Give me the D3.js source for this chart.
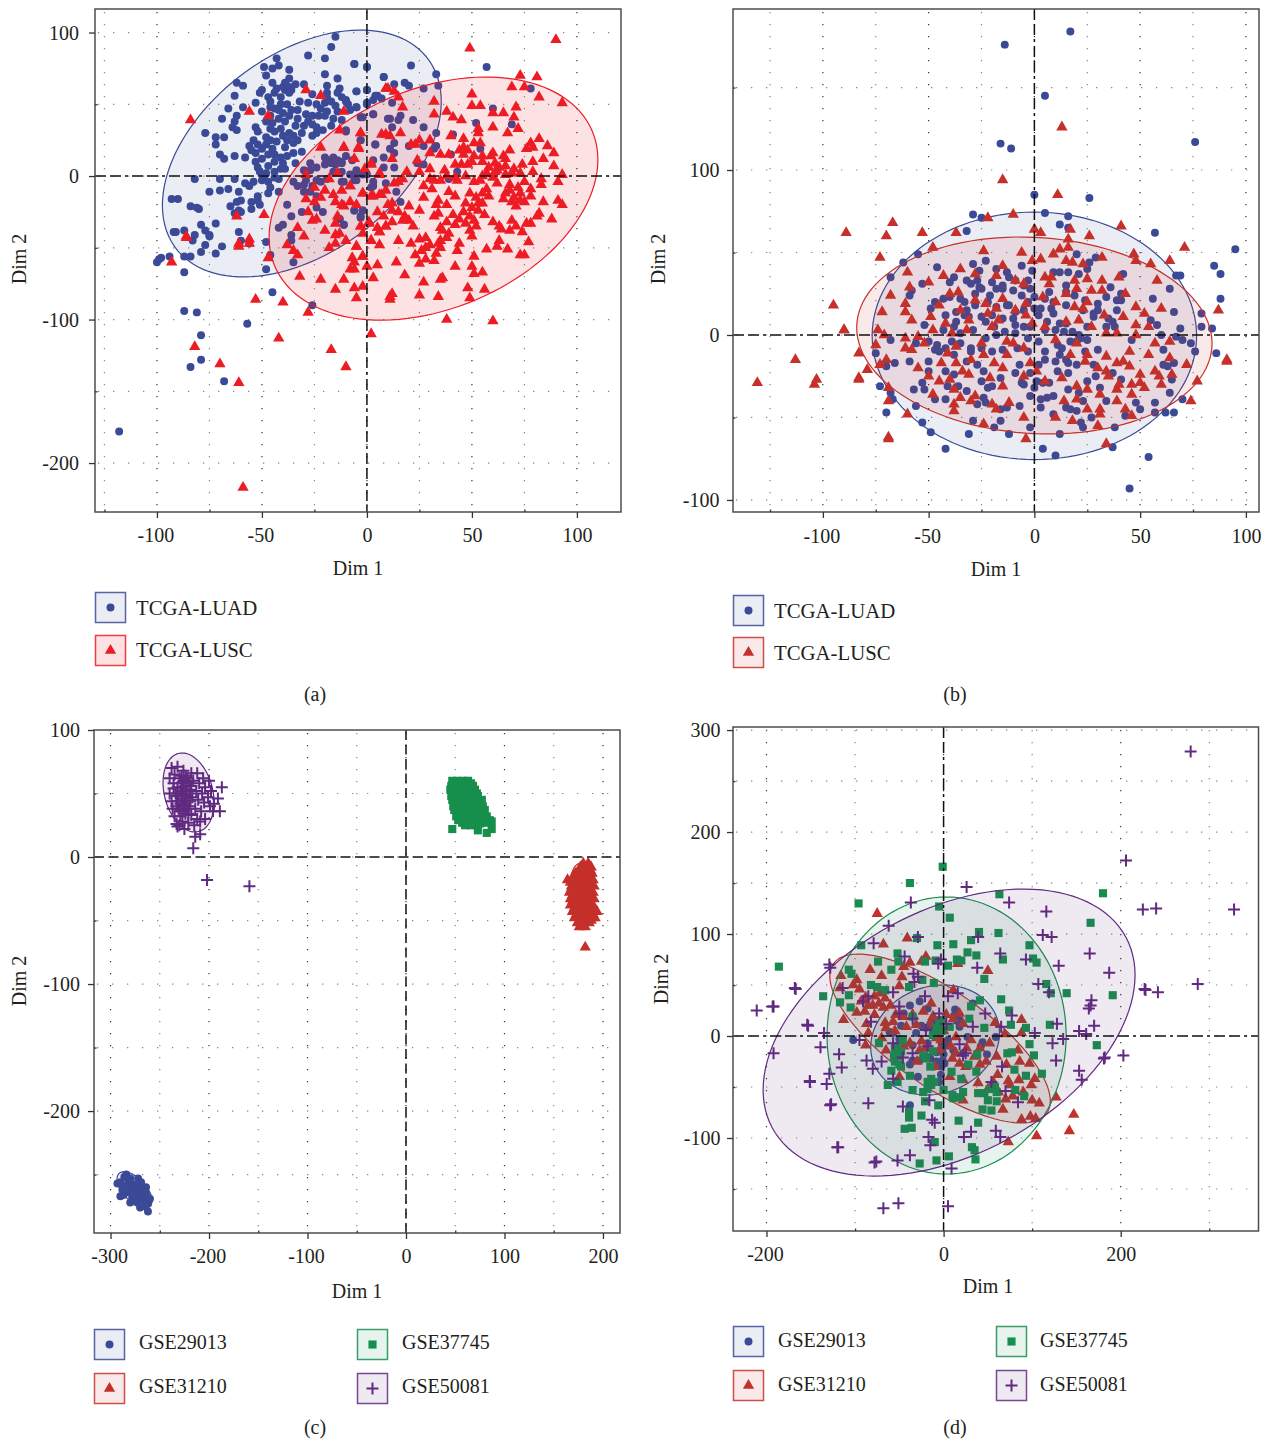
<!DOCTYPE html>
<html>
<head>
<meta charset="utf-8">
<script src="https://cdn.jsdelivr.net/npm/d3@7"></script>
<style>
    html, body { margin: 0; padding: 0; background: #fff; }
    svg { display: block; }
    text { font-family: "Liberation Serif", serif; fill: #231f20; }
</style>
</head>
<body>
<div id="chart"></div>
<script>
// values, [dim1, dim2]
var luadA = [[-15,97],[-17,90],[-28,84],[-20,82],[-43,82],[-6,78],[0,76],[-49,76],[-45,75],[-42,77],[-37,74],[-20,71],[-48,70],[-14,68],[8,69],[-37,68],[-45,65],[-39,65],[-62,65],[-59,63],[-30,64],[-43,61],[-19,63],[-37,62],[-39,60],[-36,60],[-50,60],[-5,59],[0,60],[-13,61],[-19,58],[-26,57],[-14,58],[-63,56],[-37,58],[-51,58],[-41,55],[-47,55],[4,56],[-19,55],[-10,53],[-46,52],[-32,52],[-28,51],[-53,51],[-20,51],[-15,49],[0,51],[3,53],[-9,50],[-66,47],[-59,48],[-46,48],[-42,46],[-33,46],[-22,47],[-5,48],[-50,45],[-46,42],[-29,43],[-26,42],[-23,42],[-19,45],[3,43],[-3,41],[-62,42],[-69,40],[-37,42],[-16,40],[-12,39],[10,40],[-63,38],[-45,37],[-39,38],[-64,34],[-62,32],[-53,34],[-34,35],[-30,35],[-24,34],[-21,32],[-10,31],[-77,30],[-52,31],[-41,33],[-72,27],[-68,27],[-48,27],[-44,31],[-37,30],[-26,28],[-72,22],[-54,25],[-33,25],[-3,25],[4,22],[-56,21],[-46,25],[-35,23],[-50,19],[-45,19],[-39,20],[-41,13],[-70,15],[-68,12],[-63,14],[-58,13],[-53,16],[-47,15],[-35,16],[-31,17],[-53,10],[-40,9],[-34,9],[-27,9],[-20,13],[-18,11],[-16,13],[-14,11],[-12,10],[-10,14],[-7,11],[-20,8],[-17,9],[-15,8],[-12,9],[-51,3],[-44,3],[-48,2],[-39,5],[-5,3],[-2,1],[-12,3],[-30,4],[-27,4],[-82,-2],[-70,-2],[-63,-2],[-50,-3],[-47,-4],[-42,-2],[-54,-4],[-58,-5],[-56,-7],[-35,-4],[-29,-3],[-24,-3],[-22,-4],[-12,-4],[-6,-3],[3,-7],[-75,-11],[-70,-10],[-66,-9],[-61,-11],[-47,-12],[-42,-11],[-33,-7],[-30,-11],[-27,-11],[-24,-14],[-90,-16],[-52,-14],[-60,-17],[-65,-21],[-51,-20],[-38,-20],[-24,-22],[-21,-25],[-84,-21],[-80,-23],[-55,-23],[-61,-24],[-63,-26],[-31,-25],[-36,-28],[-6,-24],[-2,-24],[-3,-28],[-13,-30],[-11,-34],[-72,-33],[-79,-34],[-77,-38],[-75,-42],[-87,-38],[-92,-39],[-82,-41],[-42,-36],[-40,-34],[-61,-39],[-36,-41],[-60,-45],[-56,-47],[-48,-46],[-36,-45],[-77,-48],[-69,-49],[-79,-53],[-84,-56],[-87,-56],[-94,-56],[-98,-57],[-100,-60],[-99,-58],[-87,-67],[-87,-94],[-81,-95],[-79,-111],[-79,-128],[-84,-133],[-68,-143],[-118,-178],[-57,-103],[-45,-81],[-26,-90],[-46,-55],[-48,-65],[-35,-60],[-83,-45],[-93,-16],[-81,-22],[-91,-39],[-72,-54],[-75,-41],[-6,78],[0,76],[21,77],[57,76],[33,71],[8,69],[13,64],[18,65],[20,63],[34,63],[27,61],[78,61],[-5,59],[0,60],[5,56],[7,54],[-10,52],[0,50],[12,51],[-5,48],[60,47],[3,43],[16,42],[11,40],[15,39],[22,39],[-2,41],[52,37],[69,36],[27,34],[12,34],[-10,32],[33,30],[41,29],[-3,25],[13,23],[4,22],[20,21],[27,21],[33,21],[32,19],[54,19],[11,19],[13,16],[40,15],[8,13],[3,11],[24,9],[27,8],[13,6],[8,6],[43,3],[-5,4],[0,1],[-8,1],[39,-2],[3,-4],[9,-5],[-5,-3],[-11,-4],[2,-8],[14,-11],[16,-18],[-6,-24],[-2,-24],[-3,-29],[-11,-34],[-13,-30],[-44,58],[-40,62],[-34,64],[-41,50],[-38,50],[-44,47],[-40,44],[-36,46],[-33,40],[-28,38],[-42,40],[-48,38],[-46,33],[-40,28],[-35,28],[-31,30],[-43,24],[-38,25],[-52,22],[-48,22],[-44,15],[-38,14],[-55,18],[-50,12],[-44,10],[-47,7],[-41,5],[-52,6],[-49,-1],[-44,-1],[-46,-8],[-24,50],[-17,52],[-12,55],[-8,46],[-20,42],[-14,45],[-26,36],[-17,35],[-24,30],[-16,3],[-24,6],[-30,-6],[-26,-7],[-19,-2],[-55,-18],[-60,-25],[-62,-18],[-52,-17]];

var luscA = [[-84,39],[-29,60],[-22,56],[-56,45],[-47,42],[-11,45],[9,61],[-3,30],[7,29],[-22,20],[-11,20],[-4,20],[-13,32],[-6,12],[2,9],[-1,5],[6,2],[-18,-2],[-14,2],[-29,1],[-8,-7],[-2,-12],[2,-14],[6,-13],[-16,-13],[-29,-16],[-25,-18],[-15,-18],[-12,-20],[-11,-21],[-62,-28],[-49,-27],[-26,-31],[-24,-30],[-15,-33],[-3,-35],[1,-32],[8,-28],[-33,-36],[5,-36],[9,-35],[6,-39],[-86,-43],[-56,-44],[-61,-49],[-13,-40],[-15,-41],[-15,-47],[-18,-50],[-38,-48],[2,-45],[-5,-49],[-33,-55],[-2,-56],[-47,-57],[-7,-57],[49,89],[90,95],[73,70],[81,69],[69,62],[75,62],[10,61],[13,59],[15,55],[50,57],[82,55],[32,52],[93,51],[50,49],[54,49],[17,48],[71,48],[38,45],[65,44],[60,44],[32,43],[41,41],[45,39],[70,41],[60,34],[72,33],[53,33],[53,30],[67,30],[9,29],[-3,30],[16,30],[11,28],[40,28],[46,26],[82,26],[25,25],[30,25],[21,22],[23,22],[78,23],[54,23],[51,23],[-11,20],[-4,19],[79,20],[46,20],[86,21],[76,19],[89,16],[68,18],[44,18],[48,18],[30,16],[35,15],[39,15],[46,15],[51,14],[59,14],[65,14],[84,12],[79,10],[66,12],[24,11],[12,12],[42,8],[48,8],[45,8],[50,10],[55,10],[61,9],[74,8],[89,7],[2,8],[30,5],[19,3],[37,4],[25,3],[62,4],[61,3],[69,2],[73,2],[79,3],[93,1],[47,0],[32,-3],[35,-3],[43,-3],[51,-4],[54,-3],[66,1],[6,1],[17,-2],[15,-4],[13,-5],[83,-2],[91,-4],[75,-4],[62,-5],[68,-6],[-8,-7],[27,-7],[31,-9],[57,-9],[83,-6],[49,-12],[39,-11],[-2,-12],[9,-10],[7,-13],[3,-14],[27,-15],[42,-14],[78,-9],[73,-12],[66,-12],[78,-14],[65,-16],[34,-17],[47,-19],[53,-19],[55,-19],[69,-18],[84,-18],[73,-17],[91,-17],[93,-20],[12,-19],[20,-21],[33,-20],[38,-20],[71,-21],[25,-24],[12,-24],[53,-24],[1,-33],[82,-26],[81,-28],[56,-27],[32,-28],[34,-26],[41,-27],[49,-28],[51,-31],[20,-31],[17,-31],[88,-30],[69,-31],[60,-32],[78,-33],[76,-33],[12,-32],[9,-35],[-3,-35],[42,-34],[63,-35],[71,-35],[35,-36],[6,-39],[64,-37],[68,-38],[74,-39],[49,-38],[50,-42],[39,-40],[35,-45],[28,-43],[25,-44],[38,-43],[63,-45],[77,-46],[15,-45],[21,-47],[34,-47],[44,-47],[2,-45],[-5,-49],[35,-50],[43,-52],[26,-52],[57,-51],[62,-49],[67,-51],[-2,-56],[23,-55],[33,-54],[28,-58],[32,-59],[51,-56],[73,-55],[75,-55],[25,-61],[-6,-60],[5,-62],[-6,-65],[0,-63],[42,-63],[50,-63],[51,-68],[55,-67],[18,-69],[3,-71],[-11,-72],[27,-74],[35,-72],[36,-71],[48,-78],[56,-79],[-6,-78],[12,-82],[25,-83],[34,-84],[-5,-85],[11,-86],[49,-85],[38,-100],[60,-101],[2,-110],[-93,-60],[-86,-42],[-61,-47],[-56,-47],[-53,-86],[-40,-88],[-28,-95],[-42,-113],[-17,-121],[-10,-133],[-82,-119],[-70,-131],[-61,-144],[-59,-217],[-32,-70],[-22,-72],[-15,-79],[-8,-65],[-2,-77],[11,-84],[55,14],[60,16],[58,6],[63,6],[66,7],[70,5],[57,2],[55,0],[60,-1],[38,0],[42,-1],[30,-2],[68,-10],[72,-8],[70,-15],[75,-18],[58,-14],[55,-12],[52,-15],[50,-22],[46,-25],[44,-30],[47,-33],[52,-35],[38,-32],[36,-38],[30,-48],[28,-50],[-5,-20],[-12,-10],[-20,-10],[-25,-8],[-8,-18],[-14,-28],[-20,-38],[-28,-25],[-22,-15],[-30,-42],[-35,-52],[10,-20],[15,-25],[5,-25],[18,-28],[22,-35],[-10,-45],[-2,-40],[6,-48],[14,-60]];

var luadB = [[-29,73],[-25,71],[5,74],[16,72],[12,67],[16,65],[-32,63],[57,62],[95,52],[-55,49],[-62,44],[85,42],[88,37],[-68,35],[-46,41],[-29,43],[-23,45],[-18,40],[-26,39],[-6,42],[-1,39],[25,40],[29,47],[20,49],[26,44],[9,38],[12,38],[16,38],[21,37],[-13,38],[-12,35],[-9,33],[42,37],[67,36],[69,36],[-38,35],[-32,33],[-27,33],[-3,33],[-20,32],[-53,31],[-40,32],[-30,31],[15,30],[36,29],[64,28],[-18,28],[-15,28],[-10,27],[-2,28],[-26,29],[7,26],[15,26],[41,25],[-58,27],[-59,24],[-21,24],[-6,24],[34,23],[19,24],[0,23],[-35,22],[-40,23],[-43,22],[56,22],[88,22],[39,21],[41,21],[24,21],[-47,20],[-33,20],[9,20],[-28,18],[-18,17],[-13,18],[15,18],[30,19],[-49,16],[-37,14],[-32,15],[-9,14],[0,16],[3,16],[8,16],[23,15],[28,13],[39,15],[66,14],[79,13],[-42,12],[-25,11],[-15,10],[2,12],[9,13],[28,11],[-37,8],[-31,11],[-23,8],[-19,5],[-9,6],[-5,5],[6,8],[12,7],[15,7],[37,8],[55,9],[58,6],[69,4],[79,5],[84,4],[-52,6],[-29,3],[-43,3],[21,0],[34,5],[-14,2],[-9,1],[-18,0],[-35,1],[46,-3],[60,0],[67,-1],[-23,-2],[-3,-2],[2,-4],[11,-6],[17,-4],[20,-4],[70,-3],[74,-5],[-68,-3],[-56,-5],[-50,-4],[-46,-6],[-39,-4],[-30,-8],[-47,-9],[-75,-11],[-38,-12],[-20,-10],[-15,-9],[5,-10],[13,-8],[24,-10],[30,-9],[61,-9],[76,-10],[86,-11],[-66,-17],[-59,-16],[-50,-16],[-70,-19],[-32,-16],[-27,-18],[-7,-18],[10,-16],[16,-17],[28,-18],[61,-18],[63,-19],[66,-17],[-50,-22],[-42,-22],[-24,-22],[-9,-23],[-2,-23],[11,-22],[16,-23],[37,-23],[65,-27],[29,-25],[-38,-24],[-16,-26],[1,-28],[-6,-29],[4,-29],[7,-29],[25,-28],[41,-27],[-53,-29],[-73,-31],[-57,-33],[-52,-33],[-41,-31],[-36,-31],[-32,-34],[-20,-31],[31,-32],[16,-33],[21,-35],[-2,-37],[-68,-35],[64,-35],[-67,-39],[-47,-39],[-42,-39],[-24,-38],[3,-39],[6,-38],[9,-37],[23,-40],[34,-40],[-27,-42],[-23,-41],[70,-39],[48,-41],[57,-41],[-56,-43],[3,-44],[-7,-43],[-16,-45],[-13,-44],[15,-44],[17,-45],[20,-46],[50,-45],[-70,-47],[62,-47],[66,-47],[57,-47],[43,-49],[9,-48],[27,-50],[-29,-52],[-16,-52],[-53,-53],[22,-53],[23,-56],[-19,-56],[-2,-56],[38,-56],[-49,-59],[-31,-60],[-12,-60],[12,-60],[-42,-69],[4,-69],[10,-73],[37,-68],[54,-74],[17,184],[-14,176],[5,145],[-16,116],[-11,113],[76,117],[0,85],[26,83],[45,-93],[-30,-10],[-35,-5],[-25,-8],[-20,12],[-10,10],[-5,15],[5,3],[10,3],[14,2],[18,2],[22,-2],[25,-3],[12,-12],[15,-15],[20,-18],[5,-15],[-5,-30],[0,-32],[-25,-28],[-22,-32],[-25,28],[-22,20],[-28,25],[-33,12],[-38,5],[-42,-8],[-45,-10],[-5,30],[-3,20],[5,22],[30,15],[35,10],[38,5],[25,5],[-15,30],[-8,-8],[-3,-10],[-2,5],[-12,18],[2,-18]];

var luscB = [[-89,62],[-67,68],[-70,60],[-53,62],[-22,71],[-10,73],[-37,62],[0,64],[3,62],[17,64],[26,60],[41,66],[-48,53],[-24,51],[-73,47],[-6,50],[16,58],[12,52],[16,53],[9,49],[3,46],[15,45],[-1,45],[18,44],[23,43],[32,47],[47,49],[48,45],[55,43],[64,45],[71,53],[-43,36],[-28,37],[-18,36],[-50,32],[-9,33],[8,35],[-5,31],[32,33],[25,34],[19,33],[7,31],[-59,29],[-68,24],[-36,26],[20,28],[27,27],[32,27],[43,25],[-61,19],[-15,22],[-28,21],[4,23],[-4,19],[-23,19],[-18,16],[48,17],[60,16],[87,15],[-72,14],[-61,14],[-9,15],[19,17],[23,16],[52,13],[-49,11],[-58,9],[-22,13],[-4,12],[33,12],[42,11],[21,9],[-1,7],[-42,7],[-31,9],[-17,9],[48,6],[54,5],[-90,3],[-74,3],[-48,3],[-71,0],[-61,-2],[-55,-1],[-39,1],[-32,3],[27,5],[34,1],[39,1],[48,0],[-75,-6],[-61,-8],[-58,-9],[-83,-11],[-37,-7],[-13,-4],[-13,-12],[-41,-11],[-24,-12],[-19,-17],[17,-12],[34,-13],[57,-5],[64,-4],[54,-12],[64,-14],[91,-16],[-73,-18],[-79,-21],[-70,-15],[-37,-17],[-2,-17],[24,-16],[39,-17],[45,-19],[72,-18],[-44,-17],[-83,-26],[-34,-22],[-31,-24],[1,-22],[13,-26],[34,-22],[42,-16],[57,-22],[50,-24],[59,-25],[65,-24],[77,-28],[-40,-27],[-21,-26],[-15,-31],[20,-31],[25,-33],[46,-30],[50,-29],[60,-30],[-69,-32],[-38,-33],[39,-33],[-48,-36],[-35,-38],[-28,-37],[46,-36],[31,-36],[74,-40],[-69,-40],[-38,-42],[-20,-42],[-12,-41],[14,-40],[20,-39],[39,-40],[31,-45],[-60,-48],[-38,-46],[43,-45],[31,-48],[46,-49],[-24,-54],[30,-55],[-69,-63],[-4,-63],[34,-66],[13,126],[-15,94],[11,85],[-131,-29],[-113,-15],[-104,-30],[-103,-27],[-95,18],[-90,3],[-69,-62],[91,-15],[-83,-27],[-20,5],[-10,-5],[-5,-8],[5,5],[10,-3],[-25,-5],[-30,-15],[-15,-20],[-5,-25],[5,-28],[20,-5],[25,-12],[30,-20],[35,-25],[15,25],[10,20],[25,20],[-35,15],[-45,18],[-52,-5],[-50,-25],[-45,-28],[-30,-40],[-18,-45],[-5,-50],[10,-50],[18,-52],[25,-45],[40,-30],[45,-10],[52,-32],[-55,-20],[-40,25],[-15,42],[5,35],[-35,40],[40,35],[58,33],[-60,38],[15,8]];

var gse29013C = [[-284,-250],[-290,-256],[-293,-257],[-288,-262],[-290,-267],[-280,-253],[-272,-253],[-277,-258],[-283,-264],[-275,-266],[-268,-261],[-280,-272],[-273,-272],[-267,-269],[-264,-265],[-270,-276],[-262,-273],[-276,-262],[-269,-256],[-285,-259],[-282,-254],[-263,-270],[-272,-269],[-260,-269],[-262,-279],[-278,-268],[-274,-258],[-266,-263],[-286,-252],[-279,-257],[-282,-260],[-271,-262],[-275,-270],[-268,-272],[-265,-275],[-270,-266],[-278,-262],[-287,-266],[-264,-260]];

var gse31210C = [[180,-5],[185,-5],[177,-8],[184,-8],[188,-8],[176,-10],[182,-10],[187,-10],[172,-13],[178,-13],[184,-13],[189,-13],[170,-15],[176,-15],[182,-15],[187,-15],[164,-18],[170,-18],[176,-18],[182,-18],[188,-18],[190,-18],[167,-20],[173,-20],[179,-20],[185,-20],[168,-23],[174,-23],[180,-23],[186,-23],[191,-23],[168,-25],[174,-25],[180,-25],[186,-25],[166,-28],[172,-28],[178,-28],[184,-28],[190,-28],[169,-30],[175,-30],[181,-30],[187,-30],[167,-33],[173,-33],[179,-33],[185,-33],[191,-33],[169,-35],[175,-35],[181,-35],[187,-35],[167,-38],[173,-38],[179,-38],[185,-38],[190,-38],[171,-40],[177,-40],[183,-40],[189,-40],[169,-43],[175,-43],[181,-43],[187,-43],[194,-43],[173,-45],[179,-45],[185,-45],[190,-45],[171,-48],[177,-48],[183,-48],[189,-48],[192,-48],[176,-50],[182,-50],[188,-50],[174,-52],[180,-52],[186,-52],[176,-55],[182,-55],[182,-71]];

var gse37745C = [[47,60],[52,60],[58,60],[63,60],[48,58],[55,58],[60,58],[66,58],[46,56],[51,56],[57,56],[63,56],[68,56],[45,53],[50,53],[56,53],[62,53],[67,53],[70,53],[48,50],[54,50],[60,50],[66,50],[72,50],[46,48],[52,48],[58,48],[64,48],[70,48],[73,48],[47,45],[53,45],[59,45],[65,45],[71,45],[77,45],[50,42],[56,42],[62,42],[68,42],[74,42],[48,40],[54,40],[60,40],[66,40],[72,40],[78,40],[49,37],[55,37],[61,37],[67,37],[73,37],[80,37],[53,34],[59,34],[65,34],[71,34],[77,34],[51,32],[57,32],[63,32],[69,32],[75,32],[82,32],[53,29],[59,29],[65,29],[71,29],[77,29],[85,29],[57,27],[63,27],[69,27],[75,27],[81,27],[60,25],[66,25],[72,25],[47,22],[73,21],[82,19],[87,22],[87,28]];

var gse50081C = [[-238,70],[-232,71],[-226,68],[-240,62],[-235,65],[-230,62],[-224,64],[-218,66],[-212,66],[-206,62],[-200,60],[-236,58],[-232,55],[-228,58],[-222,58],[-216,60],[-210,58],[-204,55],[-198,52],[-240,50],[-234,50],[-229,52],[-224,52],[-219,53],[-213,52],[-207,50],[-201,47],[-195,42],[-238,44],[-232,44],[-227,46],[-222,46],[-217,47],[-211,45],[-205,43],[-199,40],[-237,38],[-231,38],[-226,40],[-220,40],[-214,38],[-208,36],[-235,32],[-229,32],[-224,34],[-218,33],[-212,30],[-233,26],[-227,28],[-221,27],[-215,25],[-209,28],[-230,25],[-232,24],[-225,22],[-214,16],[-209,18],[-216,7],[-202,-18],[-159,-23],[-187,55],[-191,46],[-189,36],[-196,36],[-204,30],[-226,60],[-228,50],[-226,52],[-223,48],[-225,44],[-229,42],[-222,38],[-218,56],[-231,48],[-220,50],[-227,55],[-224,42],[-219,44],[-233,40],[-228,64],[-222,62],[-236,54],[-233,48],[-226,36],[-221,34],[-224,56],[-220,60],[-229,36]];

var gse29013D = [[13,26],[-38,30],[-27,34],[33,32],[18,16],[-61,4],[-48,10],[-102,-4],[-31,3],[-20,8],[-12,7],[-5,-1],[5,-4],[27,-1],[59,-1],[44,-6],[42,-10],[-35,-9],[-8,-16],[-1,-12],[49,-18],[-35,-24],[-38,-28],[-1,-24],[-11,-30],[-29,-40],[-3,-38],[-5,-45],[-38,-68],[-18,27],[18,9],[-5,16],[-18,-7],[1,-27],[22,-17],[-57,3],[-50,-14],[11,-14],[-27,-24],[-25,10],[-15,12],[-10,15],[-5,3],[-2,-8],[0,-18],[-3,-30],[-8,-25],[2,-8],[-20,-20],[-15,-22],[15,15],[12,20],[-45,22],[-50,-3]];

var gse31210D = [[-75,120],[-68,90],[-41,96],[50,64],[16,71],[-20,78],[-38,72],[-45,68],[-25,73],[-83,65],[-116,59],[-98,55],[-70,59],[-47,58],[-50,49],[-117,47],[-95,46],[-102,50],[-78,39],[-66,37],[-73,32],[-93,34],[-98,23],[-89,24],[-54,21],[-78,21],[-113,16],[-66,13],[-87,12],[-35,21],[-14,32],[11,45],[-42,9],[-31,11],[-65,8],[-12,19],[11,17],[88,16],[58,13],[22,12],[-85,3],[69,2],[88,3],[-88,-9],[52,-7],[-3,-4],[14,-1],[31,-4],[-38,-7],[-20,-12],[14,-17],[41,-12],[84,-14],[-65,-14],[71,-28],[86,-25],[97,-27],[41,-28],[18,-27],[-10,-30],[-50,-40],[61,-38],[103,-42],[73,-44],[85,-43],[99,-48],[22,-43],[7,-40],[56,-45],[39,-46],[78,-59],[70,-62],[100,-63],[108,-66],[22,-63],[127,-60],[67,-72],[88,-82],[98,-79],[104,-81],[147,-77],[142,-93],[105,-98],[73,-104],[3,21],[-23,24],[-57,14],[-27,-14],[-5,-14],[26,-12],[-46,19],[18,22],[-88,38],[-80,30],[-72,42],[-68,28],[-85,30],[-60,30],[-55,5],[-70,-2],[-45,-10],[-30,-25],[0,5],[-15,12],[8,-10],[25,-30],[35,-20],[48,-25],[60,-20],[50,-52],[62,-55],[75,-48],[90,-55],[10,-22],[-8,-2],[-25,-5]];

var gse37745D = [[-38,150],[-96,130],[63,139],[180,140],[-5,127],[7,116],[166,111],[-186,68],[40,102],[62,101],[-30,96],[31,94],[11,90],[-7,89],[97,89],[-93,89],[27,82],[37,79],[-52,81],[67,75],[101,76],[105,72],[-9,74],[-21,73],[15,75],[20,74],[5,69],[-74,73],[-51,73],[-107,65],[-104,61],[-59,65],[46,56],[-24,55],[-11,52],[-82,50],[-75,48],[-66,45],[-39,48],[116,51],[121,42],[139,42],[191,40],[-136,39],[-107,40],[65,36],[41,35],[-117,33],[-105,28],[31,29],[74,25],[-35,19],[29,17],[76,11],[93,8],[120,11],[-5,12],[7,9],[46,8],[-12,1],[-73,-7],[-46,-4],[97,-8],[173,-9],[-53,-10],[-53,-17],[-55,-25],[-23,-19],[-20,-22],[38,-18],[72,-17],[77,-16],[102,-19],[-59,-34],[-48,-30],[28,-28],[80,-33],[9,-35],[37,-35],[93,-39],[111,-37],[-38,-39],[-52,-45],[-63,-48],[20,-42],[-14,-42],[-35,-53],[-14,-48],[0,-53],[22,-55],[39,-56],[58,-50],[81,-53],[91,-59],[46,-56],[-23,-55],[11,-61],[-21,-64],[-6,-68],[50,-63],[60,-64],[44,-72],[54,-73],[-39,-74],[-39,-80],[-25,-78],[17,-83],[39,-85],[-44,-91],[-36,-90],[-10,-104],[32,-109],[35,-112],[6,-118],[-8,-122],[-27,-125],[36,-121],[-1,166],[-50,-20],[-55,-12],[-50,-28],[-56,-20],[-18,-45],[-10,-45],[-18,-52],[-12,-15],[-8,8],[-2,5],[-2,15],[-15,-30],[-48,-15],[60,-55],[52,-52],[10,-58],[18,-60]];

var gse50081D = [[26,146],[-37,131],[74,131],[116,122],[225,124],[-62,108],[-79,91],[112,99],[122,97],[39,97],[-29,97],[165,81],[64,81],[-129,70],[-44,78],[93,75],[130,69],[-6,71],[-3,75],[38,67],[187,62],[-34,61],[-29,58],[-33,53],[107,51],[119,43],[-168,47],[227,46],[-114,47],[-57,43],[16,42],[-21,39],[5,39],[-85,39],[167,35],[-91,34],[-192,29],[164,27],[-50,29],[47,22],[-5,22],[77,20],[-82,14],[128,12],[-154,11],[170,10],[33,9],[65,9],[-135,3],[153,5],[103,3],[161,2],[135,-3],[123,-7],[-57,-7],[-95,-4],[-139,-11],[-192,-17],[203,-19],[182,-21],[-118,-18],[-18,-10],[22,-19],[-35,-17],[-87,-24],[-46,-21],[127,-24],[-115,-31],[-80,-32],[-70,-25],[66,-30],[153,-34],[-129,-37],[156,-43],[-151,-45],[-132,-47],[-57,-42],[54,-45],[70,-54],[-127,-67],[-85,-66],[-46,-69],[-16,-63],[84,-65],[-13,-82],[-10,-85],[31,-94],[59,-93],[64,-99],[23,-99],[-17,-99],[-15,-107],[-120,-109],[-38,-117],[-52,-122],[-76,-123],[9,-130],[-50,22],[-20,6],[25,-17],[-35,17],[3,12],[18,-8],[279,279],[206,172],[240,125],[328,124],[228,45],[242,43],[287,51],[166,30],[181,-22],[-211,25],[-193,29],[-167,46],[-153,10],[-128,67],[-68,-169],[-51,-164],[5,-167],[-151,-44],[-119,-109],[-128,-68],[-78,-124]];

// fitted ellipses: centre x, centre y, half width, half height, correlation
var ellipseLuadA = [-31, 15.7, 66.4, 86, 0.42];
var ellipseLuscA = [31.7, -15.7, 78.3, 84.7, 0.32];
var ellipseLuadB = [0, -0.5, 76.7, 75, 0];
var ellipseLuscB = [0, -0.3, 84, 59.7, -0.08];
var ellipse29013C = [-275.6, -262, 17.8, 14.2, -0.6];
var ellipse31210C = [178, -28, 12, 23, -0.1];
var ellipse37745C = [64, 42, 19, 19, -0.55];
var ellipse50081C = [-220.8, 50.8, 25.9, 31.1, -0.25];
var ellipse29013D = [-9.6, -3.9, 72.7, 53.9, 0.13];
var ellipse31210D = [-4, -2.5, 124.5, 82.8, -0.74];
var ellipse37745D = [3.4, 0.5, 135, 135.8, 0];
var ellipse50081D = [6.2, 3.4, 210, 140.7, 0.4];

// tick labels
var xTicksAB = [-100, -50, 0, 50, 100];
var xMinorAB = [-125, -75, -25, 25, 75];
var yTicksA = [-200, -100, 0, 100];
var yMinorA = [-150, -50, 50];
var yTicksB = [-100, 0, 100];
var yMinorB = [-50, 50, 150];
var xTicksC = [-300, -200, -100, 0, 100, 200];
var xMinorC = [-250, -150, -50, 50, 150];
var yTicksC = [-200, -100, 0, 100];
var yMinorC = [-250, -150, -50, 50];
var xTicksD = [-200, 0, 200];
var xMinorD = [-100, 100, 300];
var yTicksD = [-100, 0, 100, 200, 300];
var yMinorD = [-150, -50, 50, 150, 250];

var cBlue = "#3a4a97", cRed = "#ed1c24", cDarkRed = "#c5302a", cGreen = "#178f4c", cPurple = "#5f2a80";
var sLuadA = { name: "TCGA-LUAD", color: cBlue, shape: "circle" };
var sLuscA = { name: "TCGA-LUSC", color: cRed, shape: "triangle" };
var sLuscB = { name: "TCGA-LUSC", color: cDarkRed, shape: "triangle" };
var s29013 = { name: "GSE29013", color: cBlue, shape: "circle" };
var s31210 = { name: "GSE31210", color: cDarkRed, shape: "triangle" };
var s37745 = { name: "GSE37745", color: cGreen, shape: "square" };
var s50081 = { name: "GSE50081", color: cPurple, shape: "plus" };

var vPanels = [
    {
        box: [95, 621, 9, 512], xDomain: [-129.5, 121], yDomain: [-234.1, 116.4],
        xTicks: xTicksAB, xMinor: xMinorAB, yTicks: yTicksA, yMinor: yMinorA,
        xGrid: xMinorAB.concat(xTicksAB), yGrid: yMinorA.concat(yTicksA),
        series: [[sLuadA, luadA, ellipseLuadA], [sLuscA, luscA, ellipseLuscA]],
        tickBase: 542, yLabel: -16, dash: "11 4 11 4 3 4",
        dim1: [358, 575], dim2: [26, 259], tag: ["(a)", 315, 701],
        legend: [[95, 592, 136, 615], [95, 635, 136, 657]], labelSize: 20.8
    },
    {
        box: [733, 1259, 9, 512], xDomain: [-142.5, 106.2], yDomain: [-107.3, 197.6],
        xTicks: xTicksAB, xMinor: xMinorAB, yTicks: yTicksB, yMinor: yMinorB,
        xGrid: xMinorAB.concat(xTicksAB), yGrid: yMinorB.concat(yTicksB),
        series: [[sLuadA, luadB, ellipseLuadB], [sLuscB, luscB, ellipseLuscB]],
        tickBase: 543, yLabel: -13.5, dash: "11 4 11 4 3 4",
        dim1: [996, 576], dim2: [665, 259], tag: ["(b)", 955, 701],
        legend: [[733, 595, 774, 618], [733, 637, 774, 660]], labelSize: 20.8
    },
    {
        box: [94, 620, 730, 1233], xDomain: [-316.8, 217.3], yDomain: [-296, 100],
        xTicks: xTicksC, xMinor: xMinorC, yTicks: yTicksC, yMinor: yMinorC,
        xGrid: xMinorC.concat(xTicksC), yGrid: yMinorC.concat([-200, -100, 0]),
        series: [[s29013, gse29013C, ellipse29013C], [s31210, gse31210C, ellipse31210C],
            [s37745, gse37745C, ellipse37745C], [s50081, gse50081C, ellipse50081C]],
        tickBase: 1263, yLabel: -14, dash: "10 4.5",
        dim1: [357, 1298], dim2: [26, 981], tag: ["(c)", 315, 1434],
        legend: [[94, 1329, 139, 1349], [94, 1373, 139, 1393], [357, 1329, 402, 1349], [357, 1373, 402, 1393]],
        labelSize: 20
    },
    {
        box: [733, 1258.5, 727, 1231], xDomain: [-237.8, 355.6], yDomain: [-191.2, 303],
        xTicks: xTicksD, xMinor: xMinorD, yTicks: yTicksD, yMinor: yMinorD,
        xGrid: xMinorD.concat(xTicksD), yGrid: yMinorD.concat(yTicksD),
        series: [[s29013, gse29013D, ellipse29013D], [s31210, gse31210D, ellipse31210D],
            [s37745, gse37745D, ellipse37745D], [s50081, gse50081D, ellipse50081D]],
        tickBase: 1261, yLabel: -12.5, dash: "11 4 11 4 3 4",
        dim1: [988, 1293], dim2: [668, 979], tag: ["(d)", 955, 1434],
        legend: [[733, 1326, 778, 1347], [733, 1370, 778, 1391], [996, 1326, 1040, 1347], [996, 1370, 1040, 1391]],
        labelSize: 20
    }
];

var svg = d3.select("#chart")
    .append("svg")
    .attr("width", 1271)
    .attr("height", 1443);

var vCircle = d3.symbol().type(d3.symbolCircle).size(50)();
var vTriangle = d3.symbol().type(d3.symbolTriangle).size(56)();
var vSquare = d3.symbol().type(d3.symbolSquare).size(66)();
var vPlus = "M-6,0H6M0,-6V6";

function drawMarks(aSel, aShape, aColor) {
    // plus is stroked, the others are filled
    let vPath = { circle: vCircle, triangle: vTriangle, square: vSquare, plus: vPlus }[aShape];
    aSel.attr("d", vPath)
        .attr("fill", aShape == "plus" ? "none" : aColor)
        .attr("stroke", aShape == "plus" ? aColor : "none")
        .attr("stroke-width", aShape == "plus" ? 2 : 0);
}

vPanels.forEach(function (aPanel) {
    let vLeft = aPanel.box[0], vRight = aPanel.box[1], vTop = aPanel.box[2], vBottom = aPanel.box[3];
    let x = d3.scaleLinear().domain(aPanel.xDomain).range([vLeft, vRight]);
    let y = d3.scaleLinear().domain(aPanel.yDomain).range([vBottom, vTop]);
    let g = svg.append("g");

    // dotted grid
    g.selectAll(".gridx")
        .data(aPanel.xGrid)
        .enter()
        .append("line")
        .attr("x1", function (d) { return x(d); })
        .attr("x2", function (d) { return x(d); })
        .attr("y1", vTop + 3)
        .attr("y2", vBottom)
        .attr("stroke", function (d) { return aPanel.xTicks.indexOf(d) >= 0 ? "#333" : "#888"; })
        .attr("stroke-width", 1.2)
        .attr("stroke-dasharray", "1.3 10.7");
    g.selectAll(".gridy")
        .data(aPanel.yGrid)
        .enter()
        .append("line")
        .attr("x1", vLeft + 3)
        .attr("x2", vRight)
        .attr("y1", function (d) { return y(d); })
        .attr("y2", function (d) { return y(d); })
        .attr("stroke", "#888")
        .attr("stroke-width", 1.2)
        .attr("stroke-dasharray", "1.3 13.7");

    // each group paints its ellipse over the earlier groups, then its points
    let vLine = d3.line()
        .x(function (d) { return x(d[0]); })
        .y(function (d) { return y(d[1]); })
        .curve(d3.curveLinearClosed);
    aPanel.series.forEach(function (aItem) {
        let vSeries = aItem[0], vPoints = aItem[1], vEl = aItem[2];
        let vPhi = Math.asin(vEl[4]);
        let vOutline = d3.range(0, 360, 3).map(function (aDeg) {
            let vT = aDeg * Math.PI / 180;
            return [vEl[0] + vEl[2] * Math.cos(vT), vEl[1] + vEl[3] * Math.sin(vT + vPhi)];
        });
        g.append("path")
            .attr("d", vLine(vOutline))
            .attr("fill", vSeries.color)
            .attr("fill-opacity", vSeries.color == cRed ? 0.13 : 0.1)
            .attr("stroke", vSeries.color)
            .attr("stroke-width", 1.2);
        g.append("g")
            .selectAll("path")
            .data(vPoints)
            .enter()
            .append("path")
            .attr("transform", function (d) { return "translate(" + x(d[0]) + "," + y(d[1]) + ")"; })
            .call(drawMarks, vSeries.shape, vSeries.color);
    });

    // dashed zero lines on top of the points
    g.append("line")
        .attr("x1", vLeft).attr("x2", vRight)
        .attr("y1", y(0)).attr("y2", y(0))
        .attr("stroke", "#111").attr("stroke-width", 1.5)
        .attr("stroke-dasharray", aPanel.dash);
    g.append("line")
        .attr("x1", x(0)).attr("x2", x(0))
        .attr("y1", vTop).attr("y2", vBottom)
        .attr("stroke", "#111").attr("stroke-width", 1.5)
        .attr("stroke-dasharray", aPanel.dash);

    // box
    g.append("rect")
        .attr("x", vLeft).attr("y", vTop)
        .attr("width", vRight - vLeft).attr("height", vBottom - vTop)
        .attr("fill", "none").attr("stroke", "#4d4d4d").attr("stroke-width", 1.5);

    // axes, labels keep the plain hyphen of the original
    let vXAxis = g.append("g")
        .attr("transform", "translate(0," + vBottom + ")")
        .call(d3.axisBottom(x).tickValues(aPanel.xTicks).tickSize(6).tickFormat(String));
    vXAxis.select(".domain").remove();
    vXAxis.selectAll("text")
        .attr("y", aPanel.tickBase - vBottom)
        .attr("dy", 0)
        .attr("dx", function (d) { return d < 0 ? -1.5 : 0; });
    let vYAxis = g.append("g")
        .attr("transform", "translate(" + vLeft + ",0)")
        .call(d3.axisLeft(y).tickValues(aPanel.yTicks).tickSize(6).tickFormat(String));
    vYAxis.select(".domain").remove();
    vYAxis.selectAll("text").attr("x", aPanel.yLabel).attr("dy", "0.33em");
    let vXMinor = g.append("g")
        .attr("transform", "translate(0," + vBottom + ")")
        .call(d3.axisBottom(x).tickValues(aPanel.xMinor).tickSize(-2.5).tickFormat(""));
    vXMinor.select(".domain").remove();
    let vYMinor = g.append("g")
        .attr("transform", "translate(" + vLeft + ",0)")
        .call(d3.axisLeft(y).tickValues(aPanel.yMinor).tickSize(-2.5).tickFormat(""));
    vYMinor.select(".domain").remove();
    g.selectAll(".tick line").attr("stroke", "#333").attr("stroke-width", 1.3);
    g.selectAll(".tick text").style("font-size", "20px");

    g.append("text")
        .attr("x", aPanel.dim1[0]).attr("y", aPanel.dim1[1])
        .attr("text-anchor", "middle").style("font-size", "20px")
        .text("Dim 1");
    g.append("text")
        .attr("transform", "translate(" + aPanel.dim2[0] + "," + aPanel.dim2[1] + ")rotate(-90)")
        .attr("text-anchor", "middle").style("font-size", "20px")
        .text("Dim 2");
    g.append("text")
        .attr("x", aPanel.tag[1]).attr("y", aPanel.tag[2])
        .attr("text-anchor", "middle").style("font-size", "20px")
        .text(aPanel.tag[0]);

    // legend
    aPanel.series.forEach(function (aItem, aIdx) {
        let vSeries = aItem[0], vPos = aPanel.legend[aIdx];
        g.append("rect")
            .attr("x", vPos[0] + 0.5).attr("y", vPos[1] + 0.5)
            .attr("width", 30).attr("height", 30)
            .attr("fill", vSeries.color)
            .attr("fill-opacity", vSeries.color == cRed ? 0.13 : 0.1)
            .attr("stroke", vSeries.color).attr("stroke-opacity", 0.85).attr("stroke-width", 1.5);
        g.append("path")
            .attr("transform", "translate(" + (vPos[0] + 15.5) + "," + (vPos[1] + 15.5) + ")")
            .call(drawMarks, vSeries.shape, vSeries.color);
        g.append("text")
            .attr("x", vPos[2]).attr("y", vPos[3])
            .style("font-size", aPanel.labelSize + "px")
            .text(vSeries.name);
    });
});
</script>
</body>
</html>
